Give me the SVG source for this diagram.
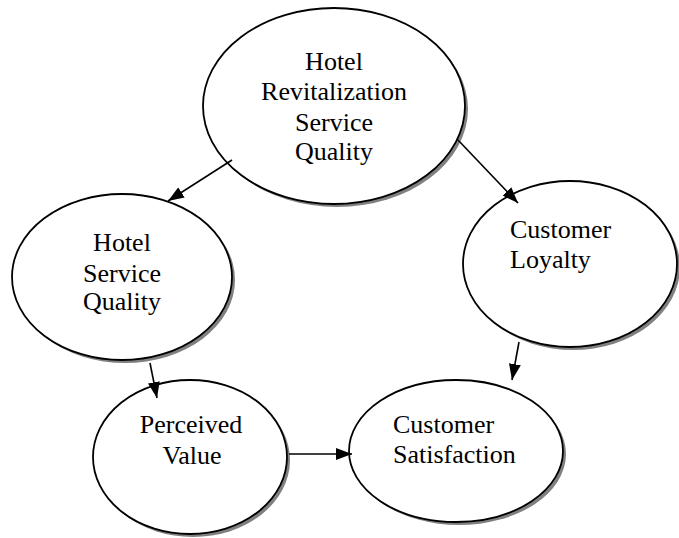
<svg xmlns="http://www.w3.org/2000/svg" width="679" height="538" viewBox="0 0 679 538">
<style>
.node ellipse.sh{fill:#808080;stroke:none}
.node ellipse.b{fill:#fff;stroke:#000;stroke-width:1.8}
.node text{font-family:"Liberation Serif","Times New Roman",serif;font-size:26px;fill:#000}
.c text{text-anchor:middle}
#connectors line{stroke:#000;stroke-width:1.6;marker-end:url(#ah)}
</style>
<defs>
<marker id="ah" viewBox="0 0 16 12" refX="16" refY="6" markerWidth="16" markerHeight="12" markerUnits="userSpaceOnUse" orient="auto">
<path d="M0,0 L16,6 L0,12 Z" fill="#000"/>
</marker>
</defs>
<rect width="679" height="538" fill="#fff"/>
<g id="n-hrsq" class="node c">
<ellipse class="sh" cx="337" cy="109" rx="131" ry="98"/>
<ellipse class="b" cx="334" cy="106" rx="131" ry="98"/>
<text x="334" y="70">Hotel</text>
<text x="334" y="100">Revitalization</text>
<text x="334" y="131">Service</text>
<text x="334" y="160">Quality</text>
</g>
<g id="n-hsq" class="node c">
<ellipse class="sh" cx="125" cy="280" rx="110" ry="83"/>
<ellipse class="b" cx="122" cy="277" rx="110" ry="83"/>
<text x="122" y="251">Hotel</text>
<text x="122" y="282">Service</text>
<text x="122" y="310">Quality</text>
</g>
<g id="n-cl" class="node">
<ellipse class="sh" cx="573" cy="267" rx="107" ry="83"/>
<ellipse class="b" cx="570" cy="264" rx="107" ry="83"/>
<text x="510" y="238">Customer</text>
<text x="510" y="268">Loyalty</text>
</g>
<g id="n-pv" class="node c">
<ellipse class="sh" cx="193" cy="460" rx="97" ry="77"/>
<ellipse class="b" cx="190" cy="457" rx="97" ry="77"/>
<text x="191" y="433">Perceived</text>
<text x="192" y="464">Value</text>
</g>
<g id="n-cs" class="node">
<ellipse class="sh" cx="459" cy="454" rx="107" ry="71"/>
<ellipse class="b" cx="456" cy="451" rx="107" ry="71"/>
<text x="393" y="433">Customer</text>
<text x="393" y="463">Satisfaction</text>
</g>
<g id="connectors">
<line x1="232" y1="160" x2="168" y2="201"/>
<line x1="458" y1="140" x2="518" y2="203"/>
<line x1="150" y1="363" x2="157" y2="398"/>
<line x1="519" y1="342" x2="512" y2="380"/>
<line x1="289" y1="454" x2="352" y2="454"/>
</g>
</svg>
